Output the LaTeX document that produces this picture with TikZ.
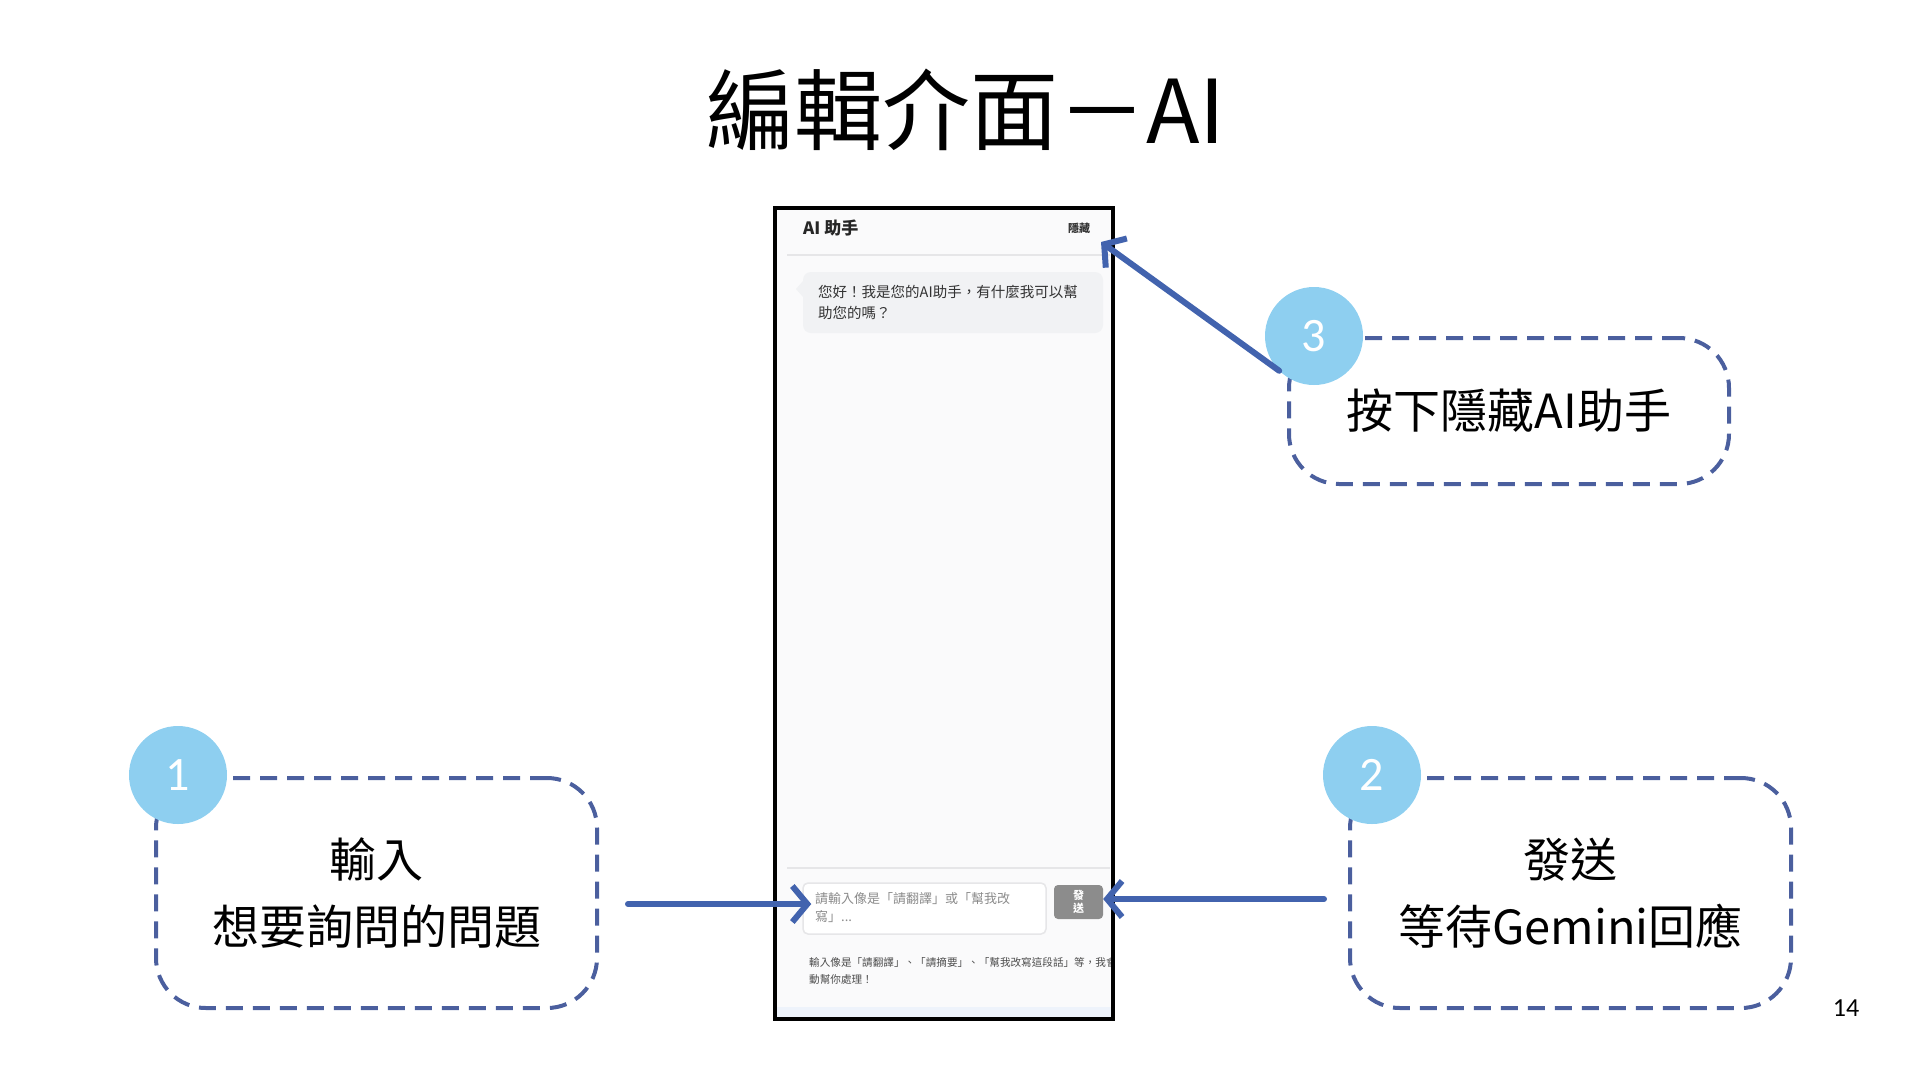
\documentclass[tikz,border=0pt]{standalone}
\usepackage{fontspec}
\usepackage{xcolor}
\usepackage{tikz}
\usetikzlibrary{arrows.meta}
\setmainfont{Noto Sans CJK TC}
\newfontfamily\numfont{Carlito}
\definecolor{dashblue}{HTML}{4B5F9E}
\definecolor{arrowblue}{HTML}{4263AE}
\definecolor{badgeblue}{HTML}{8ECFF0}
\definecolor{screenbg}{HTML}{FAFAFB}
\definecolor{bubblebg}{HTML}{F1F2F4}
\definecolor{rulegray}{HTML}{E6E6E8}
\definecolor{sendgray}{HTML}{8C8C8C}
\definecolor{stripblue}{HTML}{EEF3FB}

\begin{document}
\begin{tikzpicture}[
    x=1pt, y=-1pt,
    callout/.style={draw=dashblue, line width=4pt, dash pattern=on 17pt off 10pt, rounded corners=50pt, minimum width=441pt, inner sep=0pt, align=center, font=\fontsize{47}{67}\selectfont},
    badge/.style={circle, fill=badgeblue, minimum size=98pt, inner sep=0pt, text=white, font=\numfont\fontsize{48}{48}\selectfont},
    pointer/.style={-{Straight Barb[length=15pt,width=36pt]}, draw=arrowblue, line width=6pt, line cap=round, line join=round},
    uitext/.style={anchor=west, inner sep=0pt, align=left, text=black!80}
]
\useasboundingbox (0,0) rectangle (1920,1080);

% title
\node (title) at (966,110) {\fontsize{88}{96}\selectfont 編輯介面－AI};

% phone screen
\node [fill=screenbg, minimum width=338pt, minimum height=811pt, inner sep=0pt] (phone) at (944,613.5) {};
\node [uitext, text=black!85, font=\fontsize{17}{20}\selectfont\bfseries] (head) at (803,228) {AI 助手};
\node [inner sep=0pt, text=black!80, font=\fontsize{11}{13}\selectfont\bfseries] (hide) at (1079,228) {隱藏};
\draw [rulegray, line width=1.5pt] (787,255) -- (1110,255);
\fill [bubblebg, rounded corners=8pt] (803,272) rectangle (1103,333);
\fill [bubblebg] (803,281) -- (796,289) -- (803,297) -- cycle;
\node [uitext, font=\fontsize{14.5}{21}\selectfont] (greet) at (818,302.5) {您好！我是您的AI助手，有什麼我可以幫\\助您的嗎？};
\draw [rulegray, line width=1.5pt] (787,868) -- (1110,868);
\node [draw=rulegray, fill=white, rounded corners=5pt, line width=1.5pt, minimum width=243pt, minimum height=51pt, inner sep=0pt] (input) at (924.5,908.5) {};
\node [uitext, text=black!45, font=\fontsize{13}{18}\selectfont] (hint) at (815,908) {請輸入像是「請翻譯」或「幫我改\\寫」...};
\node [fill=sendgray, rounded corners=4pt, minimum width=49pt, minimum height=34pt, inner sep=0pt, align=center, text=white, font=\fontsize{11}{13}\selectfont\bfseries] (send) at (1078.5,902) {發\\送};
\begin{scope}
\clip (phone.north west) rectangle (phone.south east);
\node [uitext, text=black!70, font=\fontsize{10.6}{17}\selectfont] (note) at (809,970.5) {輸入像是「請翻譯」、「請摘要」、「幫我改寫這段話」等，我會自\\動幫你處理！};
\end{scope}
\fill [stripblue] (777,1007) rectangle (1111,1017);
\draw [line width=4pt] (phone.north west) rectangle (phone.south east);

% callouts
\node [callout, minimum height=230pt] (ask) at (376.5,893) {輸入\\想要詢問的問題};
\node [callout, minimum height=230pt] (wait) at (1570.5,893) {發送\\等待Gemini回應};
\node [callout, minimum height=146pt, minimum width=440pt] (close) at (1509,411) {按下隱藏AI助手};
\node [badge] (one) at (178,775) {1};
\node [badge] (two) at (1372,775) {2};
\node [badge] (three) at (1314,336) {3};

% connectors
\coordinate (askstart) at (628,904);
\coordinate (waitstart) at (1324,899);
\coordinate (hidetip) at (1101,242);
\draw [pointer] (askstart) -- ([xshift=9pt]askstart -| input.west);
\draw [pointer] (waitstart) -- (waitstart -| send.east);
\draw [pointer] (three.225) -- (hidetip);

% page number
\node (page) at (1846,1008) {\numfont\fontsize{26}{28}\selectfont 14};
\end{tikzpicture}
\end{document}
